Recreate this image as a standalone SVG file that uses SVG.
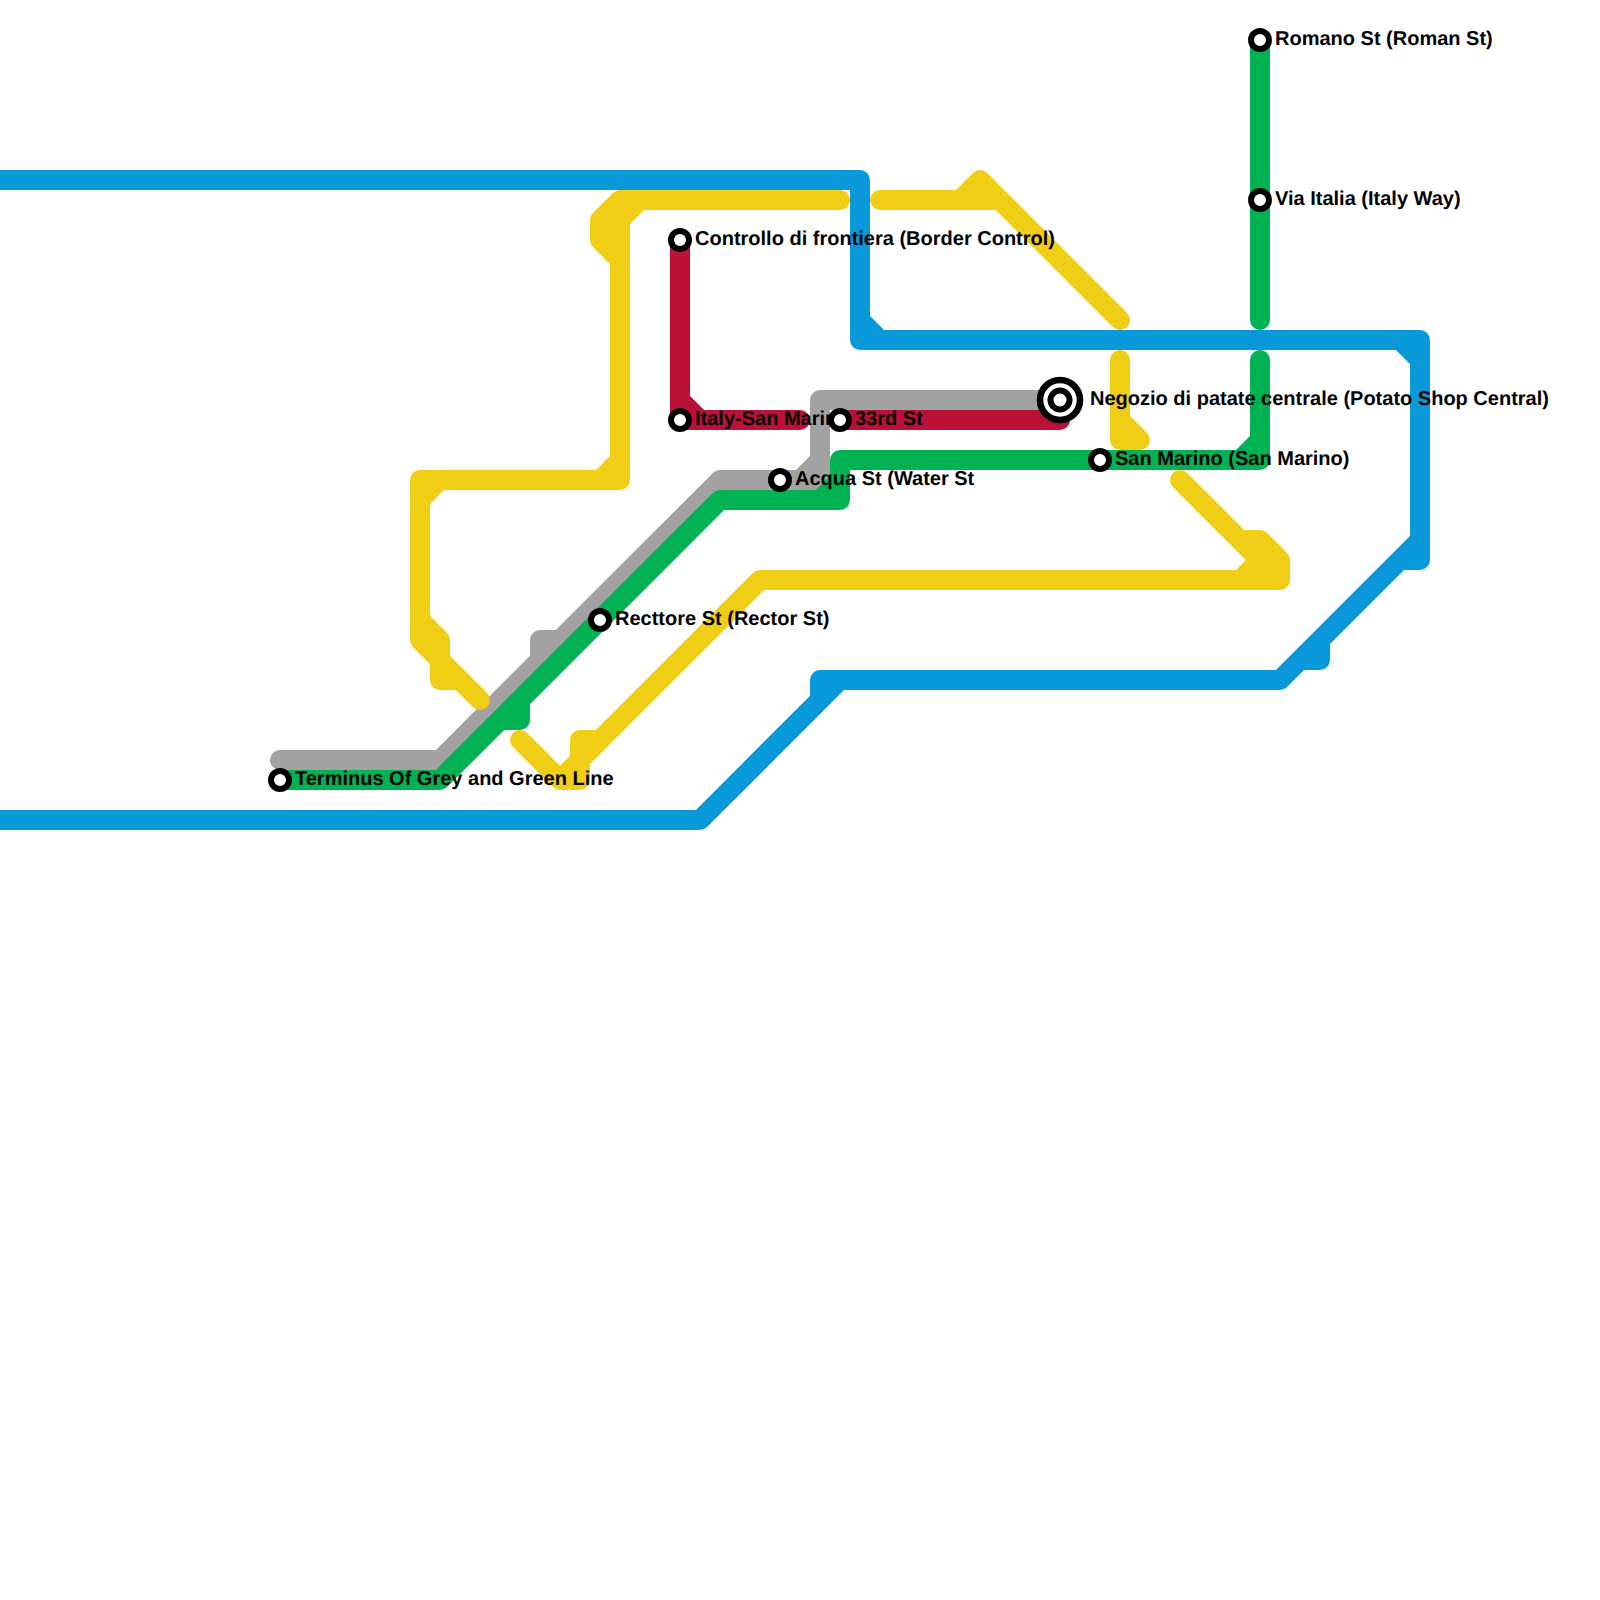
<svg xmlns="http://www.w3.org/2000/svg" width="1600" height="1600" viewBox="0 0 1600 1600">
<style>
.l{fill:none;stroke-width:20;stroke-linecap:round;stroke-linejoin:round}
.blue{stroke:#0998d9}.yellow{stroke:#f0ce15}.red{stroke:#bb1138}.gray{stroke:#a2a2a2}.green{stroke:#00b251}
.s{fill:#fff;stroke:#000;stroke-width:6}
.o{fill:#fff;stroke:#000;stroke-width:6.6}
text{font-family:"Liberation Sans",Arial,sans-serif;font-weight:700;font-size:20px;fill:#000;text-rendering:geometricPrecision}
</style>
<rect width="1600" height="1600" fill="#fff"/>
<g id="connectors">
<path class="l red" d="M680 240V420H800M680 400L700 420M840 420H1060"/>
<path class="l gray" d="M280 760H440L720 480H820V400H1060M800 480L820 460M540 660V640H560"/>
<path class="l green" d="M280 780H440L720 500H840V460H1260V360M820 500L840 480M1240 460L1260 440M1260 40V320M520 700V720H500"/>
<path class="l yellow" d="M840 200H620V480H420V640L480 700M640 200L620 220M620 200L600 220V240L620 260M600 480L620 460M420 500L440 480M420 620L440 640V680H460"/>
<path class="l yellow" d="M520 740L560 780H580V740H600M560 780L760 580H1280V560L1260 540H1240M1180 480L1260 560H1280M1240 580L1260 560"/>
<path class="l yellow" d="M1120 360V440H1140L1120 420M880 200H1000M960 200L980 180L1120 320"/>
<path class="l blue" d="M-20 180H860V340H1420V560H1400M1420 540L1280 680H820V700M860 320L880 340M1400 340L1420 360M1320 640V660H1300M-20 820H700L840 680"/>
</g>
<g id="labels">
<text x="295" y="785">Terminus Of Grey and Green Line</text>
<text x="615" y="625">Recttore St (Rector St)</text>
<text x="695" y="245">Controllo di frontiera (Border Control)</text>
<text x="695" y="425">Italy-San Marino</text>
<text x="855" y="425">33rd St</text>
<text x="795" y="485">Acqua St (Water St</text>
<text x="1115" y="465">San Marino (San Marino)</text>
<text x="1275" y="45">Romano St (Roman St)</text>
<text x="1275" y="205">Via Italia (Italy Way)</text>
<text x="1090" y="405">Negozio di patate centrale (Potato Shop Central)</text>
</g>
<g id="st-terminus"><circle class="s" cx="280" cy="780" r="9"/></g>
<g id="st-recttore"><circle class="s" cx="600" cy="620" r="9"/></g>
<g id="st-controllo"><circle class="s" cx="680" cy="240" r="9"/></g>
<g id="st-italy"><circle class="s" cx="680" cy="420" r="9"/></g>
<g id="st-33rd"><circle class="s" cx="840" cy="420" r="9"/></g>
<g id="st-acqua"><circle class="s" cx="780" cy="480" r="9"/></g>
<g id="st-sanmarino"><circle class="s" cx="1100" cy="460" r="9"/></g>
<g id="st-romano"><circle class="s" cx="1260" cy="40" r="9"/></g>
<g id="st-via"><circle class="s" cx="1260" cy="200" r="9"/></g>
<g id="st-negozio"><circle class="o" cx="1060" cy="400" r="20"/><circle class="s" cx="1060" cy="400" r="9.5"/></g>
</svg>
